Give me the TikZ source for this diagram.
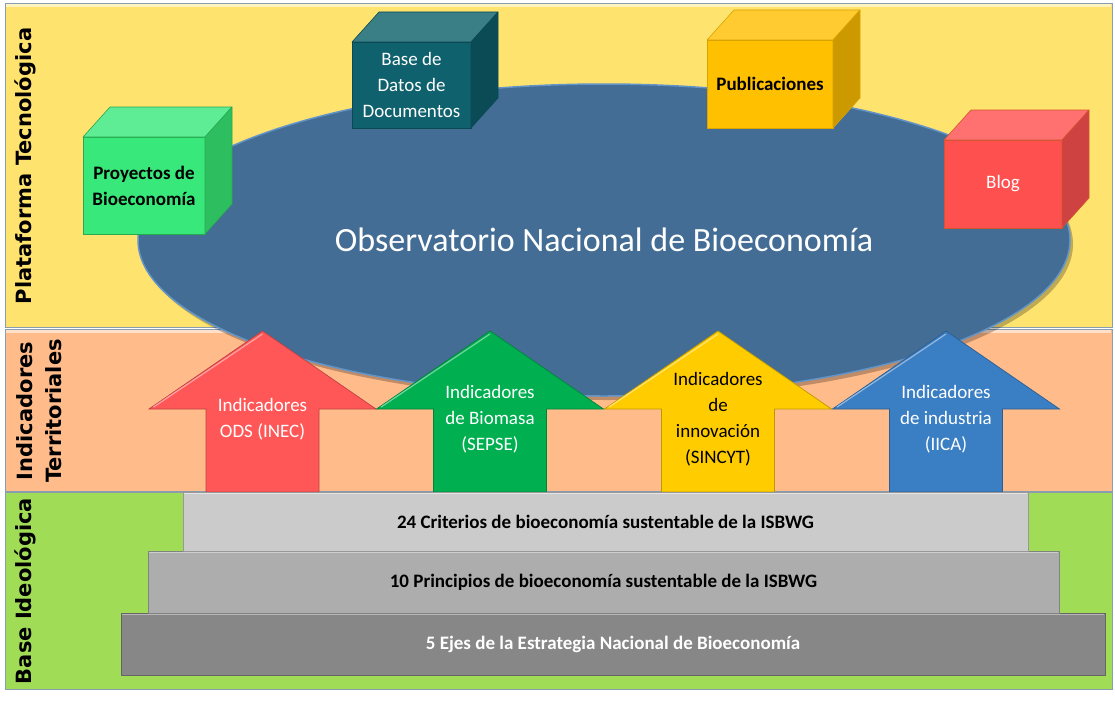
\documentclass[tikz,border=0pt]{standalone}
\usepackage{fontspec}
\setmainfont{Carlito}
\newfontfamily\labfont{DejaVu Sans}
\usetikzlibrary{shapes.geometric,calc}
\definecolor{yband}{HTML}{FFE36F}
\definecolor{pband}{HTML}{FFBB8A}
\definecolor{gband}{HTML}{A0DC56}
\definecolor{bandedge}{HTML}{8A9CB0}
\definecolor{obsfill}{HTML}{436D94}
\definecolor{obsedge}{HTML}{6394C8}
% cubes
\definecolor{cgf}{HTML}{38E87A}\definecolor{cgt}{HTML}{5EEC95}\definecolor{cgs}{HTML}{2DBF5F}\definecolor{cge}{HTML}{27A94F}
\definecolor{ctf}{HTML}{0F616E}\definecolor{ctt}{HTML}{3A7E86}\definecolor{cts}{HTML}{0A4B55}\definecolor{cte}{HTML}{0B4A55}
\definecolor{cyf}{HTML}{FFC000}\definecolor{cyt}{HTML}{FFCB30}\definecolor{cys}{HTML}{CC9A00}\definecolor{cye}{HTML}{D9A300}
\definecolor{crf}{HTML}{FF5050}\definecolor{crt}{HTML}{FF7070}\definecolor{crs}{HTML}{CF4242}\definecolor{cre}{HTML}{D2552E}
% arrows
\definecolor{ared}{HTML}{FF5757}
\definecolor{agreen}{HTML}{00B050}
\definecolor{agold}{HTML}{FFCC00}
\definecolor{ablue}{HTML}{3A7EC3}
% bars
\definecolor{bar1}{HTML}{CBCBCB}
\definecolor{bar2}{HTML}{ADADAD}
\definecolor{bar3}{HTML}{878787}
\tikzset{
  bandrect/.style={draw=bandedge, line width=0.8pt},
  bandlabel/.style={rotate=90, font=\labfont\bfseries\fontsize{21}{29}\selectfont, align=center, text=black, inner sep=0pt},
  cubefront/.style={line width=0.6pt, inner sep=2pt, outer sep=0pt, align=center},
  cubetxt/.style={font=\fontsize{19}{26}\selectfont},
  cubebold/.style={font=\bfseries\fontsize{19}{26}\selectfont},
  arrowtxt/.style={align=center, inner sep=0pt, font=\fontsize{19}{26}\selectfont},
  barbox/.style={draw=#1!75!black, fill=#1, line width=0.8pt, inner sep=0pt, outer sep=0pt, font=\bfseries\fontsize{19}{23}\selectfont},
}
\newcommand\boxcube[7]{%
  \node[cubefront, fill=#5f, draw=#5e, minimum width=#3pt, minimum height=#4pt, #6] (#1) at (#2) {#7};
  \filldraw[fill=#5t, draw=#5e, line width=0.6pt, line join=round] (#1.north west) -- ++(27,-30) -- ++(#3,0) -- (#1.north east) -- cycle;
  \filldraw[fill=#5s, draw=#5e, line width=0.6pt, line join=round] (#1.north east) -- ++(27,-30) -- ++(0,#4) -- (#1.south east) -- cycle;
}
\newcommand\blockarrow[2]{%
  \filldraw[fill=#2, draw=#2!75!black, line width=0.7pt, line join=miter]
    (#1,331) -- (#1+113.5,409) -- (#1+56.5,409) -- (#1+56.5,492) -- (#1-56.5,492) -- (#1-56.5,409) -- (#1-113.5,409) -- cycle;
  \draw[#2!55!white, line width=1.2pt] (#1-109,407) -- (#1,334);
}
\begin{document}
\begin{tikzpicture}[x=1pt,y=-1pt]
\useasboundingbox (0,0) rectangle (1115,701);
\fill[white] (0,0) rectangle (1115,701);

% bands
\draw[bandrect, fill=yband] (5,3) rectangle (1112,327);
\fill[yband!45!white] (6,4) rectangle (1111,7);
\draw[bandrect, fill=pband] (5,329) rectangle (1112,491);
\fill[pband!45!white] (6,330) rectangle (1111,333);
\draw[bandrect, fill=gband] (5,492) rectangle (1112,689);

% band labels
\node[bandlabel] (lplat) at (25,166) {Plataforma Tecnológica};
\node[bandlabel] (lind) at (39.5,411) {Indicadores\\Territoriales};
\node[bandlabel] (lbase) at (25,591) {Base Ideológica};

% observatory ellipse
\fill[black, opacity=0.25] (607,244) ellipse [x radius=466, y radius=156];
\node[ellipse, fill=obsfill, draw=obsedge, line width=1.5pt, minimum width=932pt, minimum height=312pt, inner sep=0pt,
      text=white, font=\fontsize{34}{40}\selectfont] (obs) at (604,240) {Observatorio Nacional de Bioeconomía};

% arrows
\blockarrow{262.5}{ared}
\node[arrowtxt, text=white] (aods) at (262.5,419) {Indicadores\\ODS (INEC)};
\blockarrow{490}{agreen}
\node[arrowtxt, text=white] (abio) at (490,419) {Indicadores\\de Biomasa\\(SEPSE)};
\blockarrow{718}{agold}
\node[arrowtxt, text=black] (ainn) at (718,419) {Indicadores\\de\\innovación\\(SINCYT)};
\blockarrow{946}{ablue}
\node[arrowtxt, text=white] (aind) at (946,419) {Indicadores\\de industria\\(IICA)};

% cubes
\boxcube{proy}{144,185.5}{122}{97}{cg}{cubebold, text=black}{Proyectos de\\Bioeconomía}
\boxcube{bdd}{411.5,85}{119}{86}{ct}{cubetxt, text=white}{Base de\\Datos de\\Documentos}
\boxcube{publ}{770,84}{126}{88}{cy}{cubebold, text=black}{Publicaciones}
\boxcube{blog}{1003,184}{118}{88}{cr}{cubetxt, text=white}{Blog}

% stairs
\node[barbox=bar3, minimum width=984pt, minimum height=62pt, text=white] (ejes) at (613,644) {5 Ejes de la Estrategia Nacional de Bioeconomía};
\draw[bar3!60!white, line width=1.2pt] (122,614.5) -- (1104,614.5);
\node[barbox=bar2, minimum width=911pt, minimum height=62pt, text=black] (prin) at (603.5,582) {10 Principios de bioeconomía sustentable de la ISBWG};
\draw[bar2!60!white, line width=1.2pt] (149,552.5) -- (1058,552.5);
\node[barbox=bar1, minimum width=845pt, minimum height=59pt, text=black] (crit) at (605.5,521.5) {24 Criterios de bioeconomía sustentable de la ISBWG};
\draw[bar1!50!white, line width=1.2pt] (184,493.5) -- (1027,493.5);
\end{tikzpicture}
\end{document}
